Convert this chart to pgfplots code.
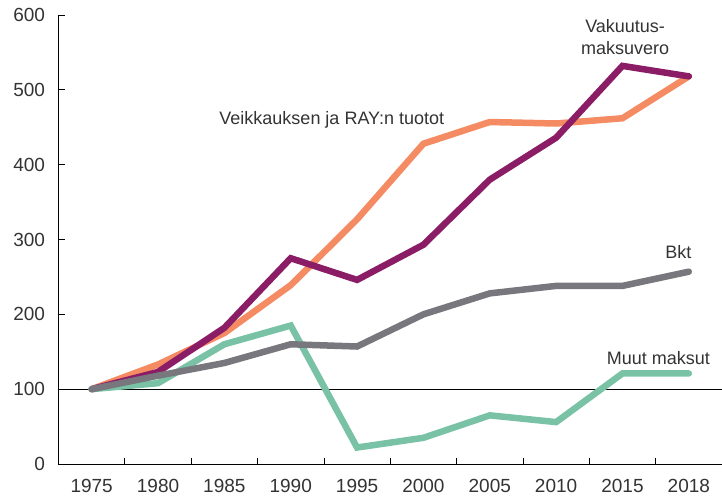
\documentclass[border=0pt]{standalone}
\usepackage{fontspec}
\setmainfont{Liberation Sans}
\usepackage{pgfplots}
\pgfplotsset{compat=1.18}
\definecolor{cOrange}{HTML}{F58B63}
\definecolor{cPurple}{HTML}{8B1D66}
\definecolor{cGrey}{HTML}{77777D}
\definecolor{cGreen}{HTML}{79C2A5}
\definecolor{cText}{HTML}{333333}
\begin{document}
\begin{tikzpicture}
\useasboundingbox (-58.5pt,-33pt) rectangle (663.5pt,464pt);
\begin{axis}[
  scale only axis, width=663.5pt, height=449pt,
  xmin=-0.5, xmax=9.5, ymin=0, ymax=600,
  axis lines*=left,
  axis line style={black, line width=0.8pt},
  /pgf/number format/assume math mode=true,
  tick align=inside, major tick length=6pt,
  tick style={black, line width=0.8pt},
  xtick={0.5,1.5,...,8.5}, xticklabels={},
  extra x ticks={0,...,9},
  extra x tick labels={1975,1980,1985,1990,1995,2000,2005,2010,2015,2018},
  extra x tick style={major tick length=0pt},
  ytick={0,100,...,600},
  tick label style={font=\fontsize{19}{19}\selectfont, text=cText},
  yticklabel style={xshift=-10pt},
  xticklabel style={yshift=-12pt},
  clip=false,
]
\addplot[black, line width=0.9pt] coordinates {(-0.5,100) (9.5,100)};
\addplot[cOrange, line width=6.5pt, line cap=round] coordinates {
(0,100) (1,133) (2,175) (3,239) (4,327) (5,428) (6,457) (7,455) (8,462) (9,518)};
\addplot[cPurple, line width=6.5pt, line cap=round] coordinates {
(0,100) (1,123) (2,182) (3,275) (4,246) (5,293) (6,380) (7,436) (8,532) (9,518)};
\addplot[cGreen, line width=6.5pt, line cap=round] coordinates {
(0,100) (1,108) (2,160) (3,185) (4,22) (5,35) (6,65) (7,56) (8,121) (9,121)};
\addplot[cGrey, line width=6.5pt, line cap=round] coordinates {
(0,100) (1,118) (2,135) (3,160) (4,157) (5,200) (6,228) (7,238) (8,238) (9,257)};
\node[text=cText, font=\fontsize{18}{18}\selectfont] at (axis cs:3.62,460) {Veikkauksen ja RAY:n tuotot};
\node[text=cText, font=\fontsize{18}{22}\selectfont, align=center] at (axis cs:8.04,571) {Vakuutus-\\maksuvero};
\node[text=cText, font=\fontsize{18}{18}\selectfont, anchor=east] at (axis cs:9.09,283) {Bkt};
\node[text=cText, font=\fontsize{18}{18}\selectfont] at (axis cs:8.54,142) {Muut maksut};
\end{axis}
\end{tikzpicture}
\end{document}
